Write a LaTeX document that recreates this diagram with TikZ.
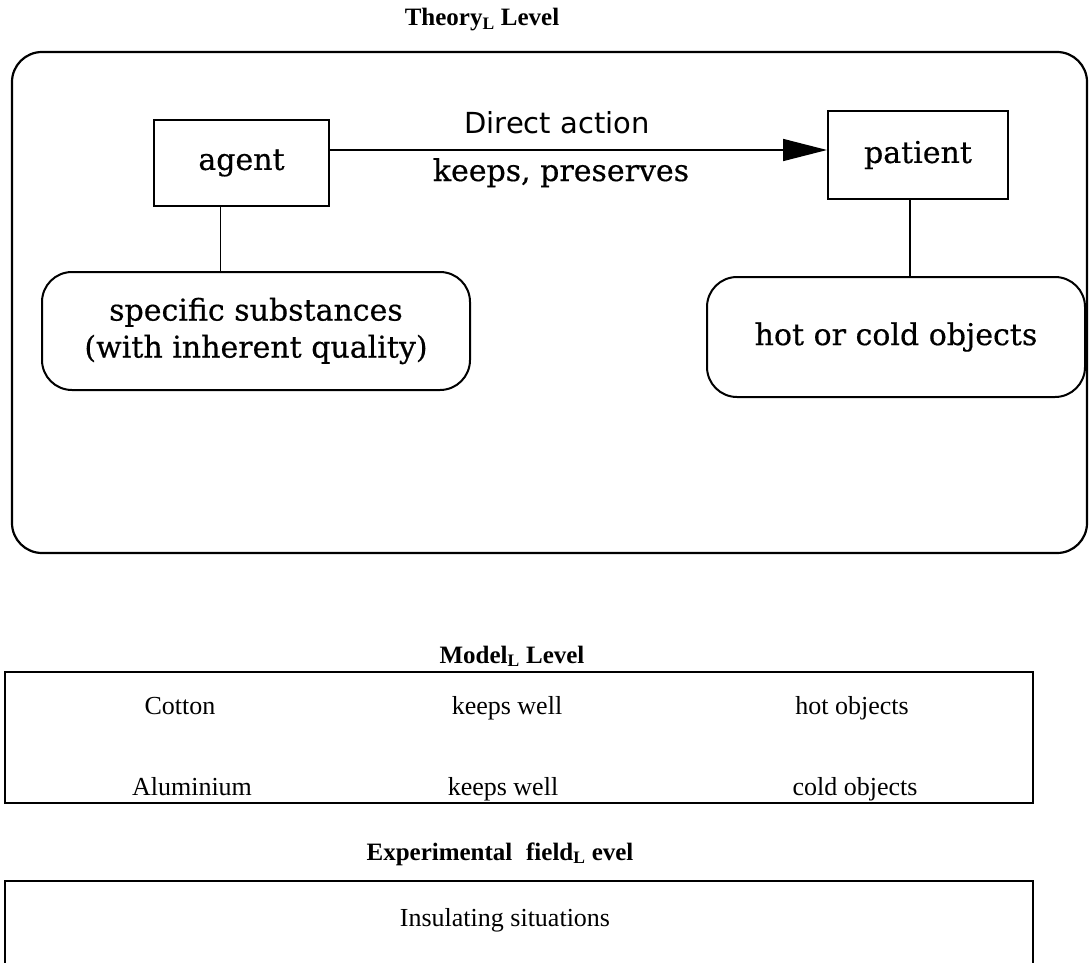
\documentclass[tikz,border=0pt]{standalone}
\usepackage{fontspec}
\setmainfont{Liberation Serif}
\newfontfamily\nyfont[FakeBold=0.5]{DejaVu Serif}
\newfontfamily\gvfont{DejaVu Sans}
\usetikzlibrary{arrows.meta}

\begin{document}
\begin{tikzpicture}[x=1pt, y=-1pt,
  leveltitle/.style={font=\fontsize{25}{30}\selectfont\bfseries, anchor=base},
  frame/.style={draw, line width=2.2pt, rounded corners=30pt, inner sep=0pt},
  ibox/.style={draw, line width=2pt, inner sep=0pt, font=\nyfont\fontsize{30}{37}\selectfont},
  rbox/.style={ibox, rounded corners=30pt, align=center},
  tbox/.style={draw, line width=2.5pt, inner sep=0pt},
  cell/.style={font=\fontsize{26}{31}\selectfont, anchor=base},
  link/.style={draw, line width=1.6pt},
  act/.style={link, -{Triangle[length=44pt, width=22pt]}}]

  \clip (0,0) rectangle (1089,963);
  \useasboundingbox (0,0) rectangle (1089,963);

  % Theory level
  \node[leveltitle] (ttitle) at (482,26) {Theory\textsubscript{L} Level};
  \node[frame, minimum width=1075pt, minimum height=501pt] (theory) at (549.5,302.5) {};
  \node[ibox, minimum width=175pt, minimum height=86pt] (agent) at (241.5,163) {agent};
  \node[ibox, minimum width=180pt, minimum height=88pt] (patient) at (918,155) {patient};
  \node[rbox, minimum width=428pt, minimum height=118pt] (subst) at (256,331)
    {specific substances\\(with inherent quality)};
  \node[rbox, minimum width=378pt, minimum height=120pt] (objects) at (896,337) {hot or cold objects};

  % Direct action arrow
  \path[act] ([yshift=13pt]agent.east) -- ([yshift=13pt]agent.east -| patient.west);
  \node[anchor=base, font=\gvfont\fontsize{29}{35}\selectfont] (direct) at (557,133) {Direct action};
  \node[anchor=base, font=\nyfont\fontsize{30}{37}\selectfont] (keeps) at (561,181) {keeps, preserves};

  % Links to the instances
  \path[link] ([xshift=-21pt]agent.south) -- ([xshift=-21pt]agent.south |- subst.north);
  \path[link] ([xshift=-8pt]patient.south) -- ([xshift=-8pt]patient.south |- objects.north);

  % Model level
  \node[leveltitle] (mtitle) at (512,663) {Model\textsubscript{L} Level};
  \node[tbox, minimum width=1028pt, minimum height=131pt] (model) at (519,737.5) {};
  \node[cell] (cotton) at (180,714) {Cotton};
  \node[cell] (keeps1) at (507,714) {keeps well};
  \node[cell] (hot) at (852,714) {hot objects};
  \node[cell] (alu) at (192,795) {Aluminium};
  \node[cell] (keeps2) at (503,795) {keeps well};
  \node[cell] (cold) at (855,795) {cold objects};

  % Experimental field level
  \node[leveltitle] (etitle) at (500,860) {Experimental\hspace{0.3em} field\textsubscript{L} evel};
  \node[tbox, minimum width=1028pt, minimum height=140pt] (field) at (519,951) {};
  \node[cell] (insul) at (505,926) {Insulating situations};

\end{tikzpicture}
\end{document}
